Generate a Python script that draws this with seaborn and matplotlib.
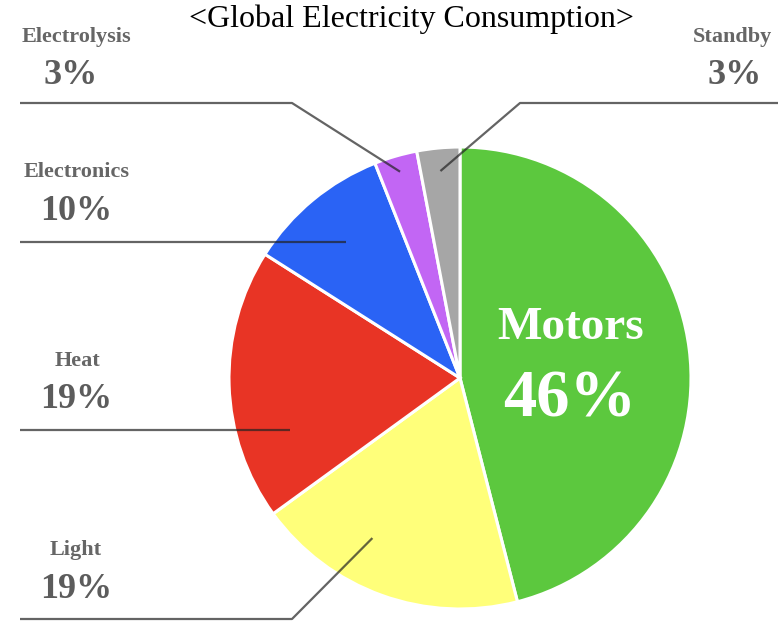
import numpy as np
import matplotlib
matplotlib.use("Agg")
import matplotlib.pyplot as plt
import seaborn as sns

# Shares of global electricity consumption (%), clockwise from 12 o'clock
categories = ["Motors", "Light", "Heat", "Electronics", "Electrolysis", "Standby"]
shares = [46, 19, 19, 10, 3, 3]
colors = ["#5CC83E", "#FFFF7A", "#E83425", "#2A63F5", "#C266F4", "#A6A6A6"]
title = "<Global Electricity Consumption>"

sns.set_theme(style="white")
plt.rcParams["font.family"] = ["Liberation Serif", "DejaVu Serif"]

W, H = 778, 622
fig = plt.figure(figsize=(W / 100, H / 100), dpi=100)
ax = fig.add_axes([0, 0, 1, 1])
ax.set_xlim(0, W)
ax.set_ylim(0, H)
ax.set_aspect("equal")
ax.axis("off")

cx, cy, R = 460, H - 378, 231
wedges, _ = ax.pie(shares, colors=colors, startangle=90, counterclock=False,
                   center=(cx, cy), radius=R,
                   wedgeprops=dict(edgecolor="white", linewidth=2.2))
ax.set_xlim(0, W)
ax.set_ylim(0, H)


def anchor(w, t, frac):
    """Point inside a wedge: t = fraction of the way clockwise, frac = radial fraction."""
    ang = np.deg2rad(w.theta2 - t * (w.theta2 - w.theta1))
    return cx + frac * R * np.cos(ang), cy + frac * R * np.sin(ang)


line_kw = dict(color="#222222", alpha=0.7, lw=1.6, solid_capstyle="butt")
name_kw = dict(fontsize=16, fontweight="bold", color="#666666", va="center")
pct_kw = dict(fontsize=26, fontweight="bold", color="#5c5c5c", ha="center", va="center")

# Outside labels: (category index, t, radial frac, name x, name align, pct x,
#                  name y, line y, line x-range)
outside = [
    (4, 0.5, 0.93, 76, "center", 71, 37, 103, (20, 292)),
    (5, 0.5, 0.90, 693, "left", 735, 37, 103, (520, 778)),
    (3, 0.49, 0.77, 77, "center", 76, 172, None, (20, None)),
    (2, 0.28, 0.77, 77, "center", 76, 361, None, (20, None)),
    (1, 0.63, 0.79, 76, "center", 76, 550, 619, (20, 292)),
]

for idx, t, frac, nx, nha, px, ly, line_y, (x0, x1) in outside:
    ax_, ay_ = anchor(wedges[idx], t, frac)
    ax.text(nx, H - ly, categories[idx], ha=nha, **name_kw)
    ax.text(px, H - (ly + 39), f"{shares[idx]}%", **pct_kw)
    if line_y is None:
        ax.plot([x0, ax_], [ay_, ay_], **line_kw)
    else:
        ly_ = H - line_y
        if idx == 5:
            ax.plot([ax_, x0, x1], [ay_, ly_, ly_], **line_kw)
        else:
            ax.plot([x0, x1, ax_], [ly_, ly_, ay_], **line_kw)

# Label inside the largest wedge
ax.text(571, H - 328, categories[0], fontsize=34, fontweight="bold",
        color="white", ha="center", va="center")
ax.text(570, H - 400, f"{shares[0]}%", fontsize=48, fontweight="bold",
        color="white", ha="center", va="center")

ax.text(411, H - 19, title, fontsize=23, color="black", ha="center", va="center")

fig.savefig("out.png", dpi=100, facecolor="white")
